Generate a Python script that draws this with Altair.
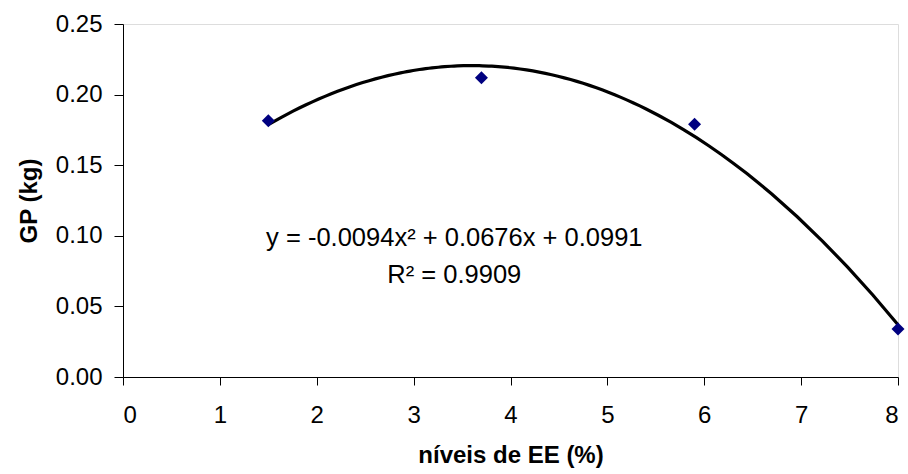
import altair as alt
import pandas as pd

# data
niveis = [1.5, 3.7, 5.9, 8.0]
gp = [0.1815, 0.212, 0.179, 0.034]

eq_text = ["y = -0.0094x² + 0.0676x + 0.0991", "R² = 0.9909"]
eq_x = [3.42, 3.42]
eq_y = [0.0984, 0.0722]

df = pd.DataFrame({"x": niveis, "y": gp})
ann = pd.DataFrame({"t": eq_text, "x": eq_x, "y": eq_y})

FONT = "Liberation Sans"

xscale = alt.Scale(domain=[0, 8], nice=False, zero=False)
yscale = alt.Scale(domain=[0, 0.25], nice=False)

xaxis = alt.Axis(
    title="níveis de EE (%)", values=list(range(0, 9)), format="d",
    grid=False, tickSize=8, labelPadding=18, labelFontSize=24, labelFont=FONT,
    titleFont=FONT, titleFontSize=24, titleFontWeight="bold",
    titleBaseline="middle", titleY=78, titleX=387.5,
    domainColor="black", tickColor="black", labelColor="black", titleColor="black",
)
yaxis = alt.Axis(
    title="GP (kg)", values=[0, 0.05, 0.10, 0.15, 0.20, 0.25], format=".2f",
    grid=False, tickSize=9, labelPadding=12, labelFontSize=24, labelFont=FONT,
    titleFont=FONT, titleFontSize=24, titleFontWeight="bold",
    titleBaseline="middle", titleX=-94, titleY=176.5, titleAngle=-90,
    domainColor="black", tickColor="black", labelColor="black", titleColor="black",
)

base = alt.Chart(df)

curve = base.transform_regression(
    "x", "y", method="poly", order=2, extent=[1.5, 8]
).mark_line(color="black", strokeWidth=3.2).encode(
    x=alt.X("x:Q", scale=xscale, axis=xaxis),
    y=alt.Y("y:Q", scale=yscale, axis=yaxis),
)

points = base.mark_point(
    shape="diamond", filled=True, color="#000080", size=170, opacity=1
).encode(
    x=alt.X("x:Q", scale=xscale),
    y=alt.Y("y:Q", scale=yscale),
)

text = alt.Chart(ann).mark_text(
    font=FONT, fontSize=25.5, color="black", align="center", baseline="middle"
).encode(
    x=alt.X("x:Q", scale=xscale),
    y=alt.Y("y:Q", scale=yscale),
    text="t:N",
)

chart = alt.layer(curve, points, text).properties(
    width=775, height=353,
    autosize=alt.AutoSizeParams(type="none"),
    padding={"left": 123, "top": 24, "right": 10, "bottom": 97},
).configure_view(stroke=None).configure(background="white")

chart.save("out.html", embed_options={"renderer": "svg", "actions": False})
